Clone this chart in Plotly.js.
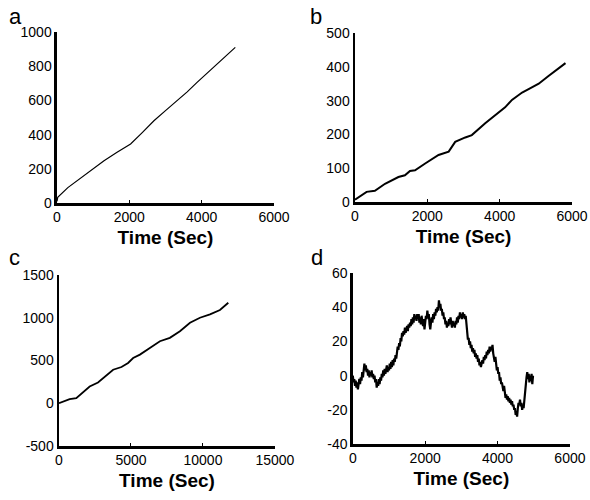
<!DOCTYPE html>
<html>
<head>
<meta charset="utf-8">
<script src="https://cdn.plot.ly/plotly-3.0.1.min.js"></script>
<style>html,body{margin:0;padding:0;background:#fff;}#chart{width:590px;height:500px;}</style>
</head>
<body>
<div id="chart"></div>
<script>
// Panel a
const timeA = [0, 20, 300, 660, 1000, 1300, 1650, 2035, 2350, 2680, 3000, 3322, 3600, 3873, 4150, 4424, 4700, 4930];
const valuesA = [10, 33, 90, 146, 200, 247, 295, 345, 410, 481, 540, 598, 650, 705, 760, 813, 865, 910];
// Panel b
const timeB = [0, 320, 550, 830, 1200, 1380, 1520, 1660, 1940, 2310, 2590, 2770, 3050, 3230, 3600, 3880, 4150, 4340, 4620, 4800, 5080, 5350, 5820];
const valuesB = [7, 30, 33, 54, 74, 79, 92, 94, 114, 139, 149, 178, 191, 198, 233, 257, 280, 302, 324, 334, 350, 373, 411];
// Panel c
const timeC = [0, 510, 740, 1200, 1550, 2130, 2710, 3300, 3760, 4340, 4800, 5150, 5620, 6310, 7010, 7700, 8400, 9100, 9790, 10490, 11180, 11760];
const valuesC = [0, 27, 47, 59, 110, 196, 243, 333, 392, 424, 471, 529, 569, 647, 725, 765, 843, 941, 1000, 1039, 1090, 1176];
// Panel d (sampled every 20 s)
const timeD = [
  0,20,40,60,80,100,120,140,160,180,
  200,220,240,260,280,300,320,340,360,380,
  400,420,440,460,480,500,520,540,560,580,
  600,620,640,660,680,700,720,740,760,780,
  800,820,840,860,880,900,920,940,960,980,
  1000,1020,1040,1060,1080,1100,1120,1140,1160,1180,
  1200,1220,1240,1260,1280,1300,1320,1340,1360,1380,
  1400,1420,1440,1460,1480,1500,1520,1540,1560,1580,
  1600,1620,1640,1660,1680,1700,1720,1740,1760,1780,
  1800,1820,1840,1860,1880,1900,1920,1940,1960,1980,
  2000,2020,2040,2060,2080,2100,2120,2140,2160,2180,
  2200,2220,2240,2260,2280,2300,2320,2340,2360,2380,
  2400,2420,2440,2460,2480,2500,2520,2540,2560,2580,
  2600,2620,2640,2660,2680,2700,2720,2740,2760,2780,
  2800,2820,2840,2860,2880,2900,2920,2940,2960,2980,
  3000,3020,3040,3060,3080,3100,3120,3140,3160,3180,
  3200,3220,3240,3260,3280,3300,3320,3340,3360,3380,
  3400,3420,3440,3460,3480,3500,3520,3540,3560,3580,
  3600,3620,3640,3660,3680,3700,3720,3740,3760,3780,
  3800,3820,3840,3860,3880,3900,3920,3940,3960,3980,
  4000,4020,4040,4060,4080,4100,4120,4140,4160,4180,
  4200,4220,4240,4260,4280,4300,4320,4340,4360,4380,
  4400,4420,4440,4460,4480,4500,4520,4540,4560,4580,
  4600,4620,4640,4660,4680,4700,4720,4740,4760,4780,
  4800,4820,4840,4860,4880,4900,4920,4940,4960,4980
];
const valuesD = [
  0,-4,-2,-6,-3,-7,-4,-8,-5,-2,
  -5,-1,-3,2,-1,4,7,3,6,2,
  4,0,3,-1,2,0,3,-1,1,-2,
  0,-4,-2,-7,-4,-6,-2,-5,-1,-3,
  1,-1,3,0,4,1,3,6,2,5,
  3,7,4,8,5,9,6,10,8,12,
  10,14,17,15,19,17,22,20,25,23,
  26,24,28,25,27,29,26,30,28,31,
  29,33,30,34,31,36,33,35,32,36,
  33,36,31,34,30,35,32,29,33,27,
  31,35,33,38,34,36,30,27,31,34,
  31,36,33,37,35,39,37,40,38,44,
  40,42,38,39,35,37,33,34,30,32,
  28,31,29,33,30,34,31,28,32,29,
  31,28,32,30,34,31,35,33,37,34,
  36,33,37,34,36,33,35,29,24,21,
  22,18,20,16,18,14,16,13,15,11,
  13,10,12,8,10,6,8,5,7,9,
  7,11,9,12,10,14,12,15,13,17,
  14,17,15,18,13,10,8,11,6,3,
  5,1,2,-3,-1,-5,-4,-7,-9,-6,
  -10,-13,-11,-14,-12,-15,-13,-16,-14,-17,
  -15,-18,-17,-20,-19,-23,-21,-24,-19,-16,
  -17,-14,-18,-16,-20,-17,-19,-13,-10,-5,
  -1,2,-2,1,-4,0,-3,1,-5,0
];

const xTickA = [0, 2000, 4000, 6000];
const yTickA = [0, 200, 400, 600, 800, 1000];
const yTickB = [0, 100, 200, 300, 400, 500];
const xTickC = [0, 5000, 10000, 15000];
const yTickC = [-500, 0, 500, 1000, 1500];
const yTickD = [-40, -20, 0, 20, 40, 60];
const panelLabels = ["a", "b", "c", "d"];
const xTitle = "Time (Sec)";

const font = "Arial, 'Liberation Sans', sans-serif";

function line(x, y, xa, ya, w) {
  return {x: x, y: y, xaxis: xa, yaxis: ya, type: "scatter", mode: "lines",
          line: {color: "#000", width: w}, hoverinfo: "skip", showlegend: false};
}

const data = [
  line(timeA, valuesA, "x", "y", 1.2),
  line(timeB, valuesB, "x2", "y2", 2),
  line(timeC, valuesC, "x3", "y3", 1.8),
  line(timeD, valuesD, "x4", "y4", 2.2)
];

function xax(domain, range, ticks, anchor) {
  return {domain: domain, range: range, tickvals: ticks, ticktext: ticks.map(String), anchor: anchor,
    showline: true, linewidth: 2.5, linecolor: "#000", showgrid: false, zeroline: false,
    ticks: "inside", ticklen: 3, tickwidth: 1, tickcolor: "#000",
    tickfont: {family: font, size: 14, color: "#000"},
    title: {text: xTitle, font: {family: font, size: 19, color: "#000", weight: "bold"}, standoff: 7}};
}
function yax(domain, range, ticks, anchor) {
  return {domain: domain, range: range, tickvals: ticks, ticktext: ticks.map(String), anchor: anchor,
    showline: true, linewidth: 2.5, linecolor: "#000", showgrid: false, zeroline: false,
    ticks: "", tickfont: {family: font, size: 14, color: "#000"}};
}

const layout = {
  width: 590, height: 500,
  margin: {l: 0, r: 0, t: 0, b: 0},
  paper_bgcolor: "#fff", plot_bgcolor: "#fff",
  xaxis: xax([0.0966, 0.4644], [0, 6000], xTickA, "y"),
  yaxis: yax([0.594, 0.936], [0, 1000], yTickA, "x"),
  xaxis2: xax([0.6017, 0.9695], [0, 6000], xTickA, "y2"),
  yaxis2: yax([0.596, 0.934], [0, 500], yTickB, "x2"),
  xaxis3: xax([0.100, 0.466], [0, 15000], xTickC, "y3"),
  yaxis3: yax([0.108, 0.450], [-500, 1500], yTickC, "x3"),
  xaxis4: xax([0.598, 0.966], [0, 6000], xTickA, "y4"),
  yaxis4: yax([0.112, 0.454], [-40, 60], yTickD, "x4"),
  annotations: [
    {text: panelLabels[0], x: 7, y: 2},
    {text: panelLabels[1], x: 308, y: 2},
    {text: panelLabels[2], x: 7, y: 243},
    {text: panelLabels[3], x: 309, y: 243}
  ].map(a => ({text: a.text, xref: "paper", yref: "paper", x: a.x / 590, y: 1 - a.y / 500,
    xanchor: "left", yanchor: "top", showarrow: false,
    font: {family: font, size: 22, color: "#000"}}))
};

Plotly.newPlot("chart", data, layout, {staticPlot: true, displayModeBar: false});
</script>
</body>
</html>
